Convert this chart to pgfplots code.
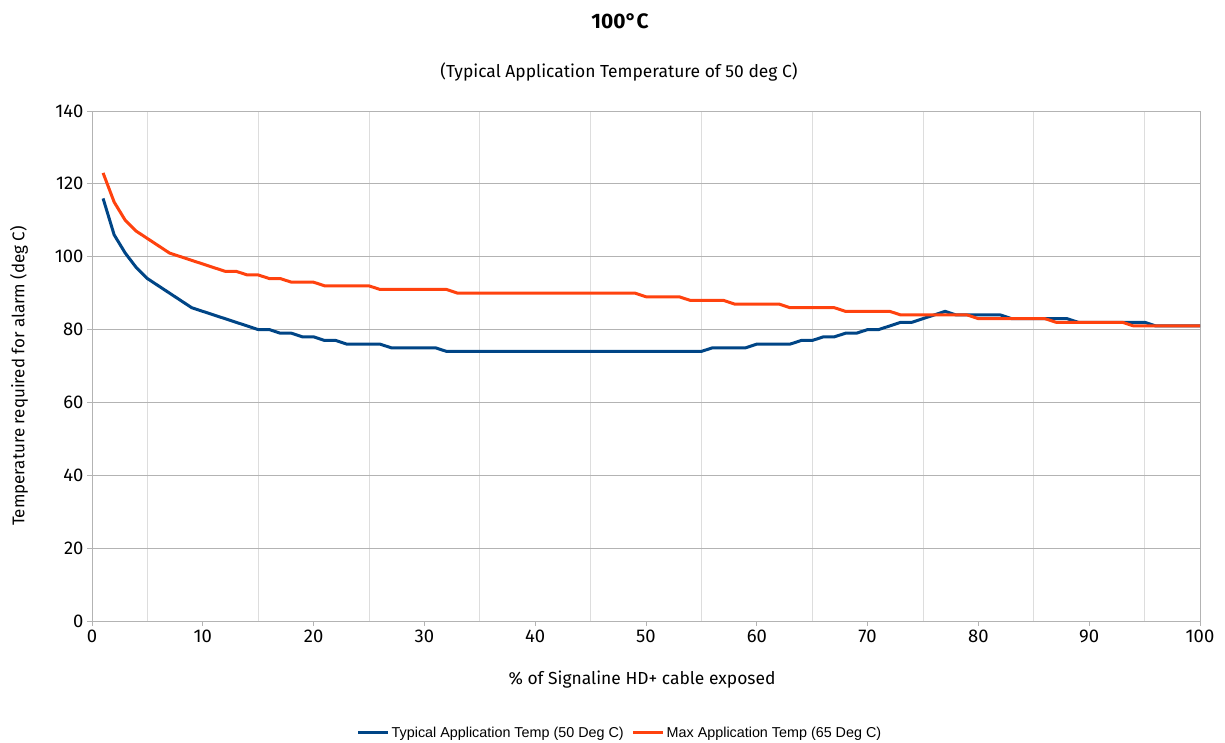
\documentclass[border=0pt]{standalone}
\usepackage{fontspec}
\setmainfont{Fira Sans}
\newfontfamily\legfont{Liberation Sans}
\usepackage{pgfplots}
\pgfplotsset{compat=1.18}
\definecolor{cblue}{HTML}{004586}
\definecolor{corange}{HTML}{FF420E}
\definecolor{gridmaj}{HTML}{B3B3B3}
\definecolor{gridmin}{HTML}{DDDDDD}
\begin{document}
\begin{tikzpicture}
\useasboundingbox (0,0) rectangle (1225bp,743bp);
\begin{axis}[
  at={(92bp,122bp)}, anchor=south west,
  scale only axis, width=1108bp, height=510bp,
  xmin=0, xmax=100, ymin=0, ymax=140,
  xtick={0,10,...,100}, ytick={0,20,...,140},
  minor xtick={5,15,...,95},
  ymajorgrids, xminorgrids,
  major grid style={gridmaj, line width=0.8pt},
  minor grid style={gridmin, line width=0.8pt},
  axis line style={gridmaj, line width=0.8pt},
  tick style={gridmaj, line width=0.8pt},
  major tick length=5bp, minor tick length=0pt,
  tick align=outside,
  xtick pos=bottom, ytick pos=left,
  /pgf/number format/assume math mode=true,
  ticklabel style={font=\fontsize{18.5}{20}\selectfont, text=black},
  xticklabel style={yshift=0bp},
  yticklabel style={xshift=0bp},
  legend style={at={(axis description cs:0.4765,-0.2196)}, anchor=center,
    draw=none, fill=none, legend columns=2,
    font=\legfont\fontsize{14.4}{16}\selectfont,
    /tikz/every even column/.append style={column sep=6bp}},
  legend image code/.code={\draw[#1, line width=3bp] (0bp,0bp) -- (30bp,0bp);},
]
\addplot[cblue, line width=3bp, line join=round] coordinates {
(1,116)(2,106)(3,101)(4,97)(5,94)(6,92)(7,90)(8,88)(9,86)(10,85)
(11,84)(12,83)(13,82)(14,81)(15,80)(16,80)(17,79)(18,79)(19,78)(20,78)
(21,77)(22,77)(23,76)(24,76)(25,76)(26,76)(27,75)(28,75)(29,75)(30,75)
(31,75)(32,74)(33,74)(34,74)(35,74)(36,74)(37,74)(38,74)(39,74)(40,74)
(41,74)(42,74)(43,74)(44,74)(45,74)(46,74)(47,74)(48,74)(49,74)(50,74)
(51,74)(52,74)(53,74)(54,74)(55,74)(56,75)(57,75)(58,75)(59,75)(60,76)
(61,76)(62,76)(63,76)(64,77)(65,77)(66,78)(67,78)(68,79)(69,79)(70,80)
(71,80)(72,81)(73,82)(74,82)(75,83)(76,84)(77,85)(78,84)(79,84)(80,84)
(81,84)(82,84)(83,83)(84,83)(85,83)(86,83)(87,83)(88,83)(89,82)(90,82)
(91,82)(92,82)(93,82)(94,82)(95,82)(96,81)(97,81)(98,81)(99,81)(100,81)
};
\addlegendentry{Typical Application Temp (50 Deg C)}
\addplot[corange, line width=3bp, line join=round] coordinates {
(1,123)(2,115)(3,110)(4,107)(5,105)(6,103)(7,101)(8,100)(9,99)(10,98)
(11,97)(12,96)(13,96)(14,95)(15,95)(16,94)(17,94)(18,93)(19,93)(20,93)
(21,92)(22,92)(23,92)(24,92)(25,92)(26,91)(27,91)(28,91)(29,91)(30,91)
(31,91)(32,91)(33,90)(34,90)(35,90)(36,90)(37,90)(38,90)(39,90)(40,90)
(41,90)(42,90)(43,90)(44,90)(45,90)(46,90)(47,90)(48,90)(49,90)(50,89)
(51,89)(52,89)(53,89)(54,88)(55,88)(56,88)(57,88)(58,87)(59,87)(60,87)
(61,87)(62,87)(63,86)(64,86)(65,86)(66,86)(67,86)(68,85)(69,85)(70,85)
(71,85)(72,85)(73,84)(74,84)(75,84)(76,84)(77,84)(78,84)(79,84)(80,83)
(81,83)(82,83)(83,83)(84,83)(85,83)(86,83)(87,82)(88,82)(89,82)(90,82)
(91,82)(92,82)(93,82)(94,81)(95,81)(96,81)(97,81)(98,81)(99,81)(100,81)
};
\addlegendentry{Max Application Temp (65 Deg C)}
\end{axis}
\node[font=\bfseries\fontsize{21}{23}\selectfont] at (620bp,722bp) {100°C};
\node[font=\fontsize{17.5}{19}\selectfont] at (619bp,671bp) {(Typical Application Temperature of 50 deg C)};
\node[font=\fontsize{17.5}{19}\selectfont] at (642bp,63bp) {\% of Signaline HD+ cable exposed};
\node[font=\fontsize{17}{19}\selectfont, rotate=90] at (19bp,367bp) {Temperature required for alarm (deg C)};
\end{tikzpicture}
\end{document}
